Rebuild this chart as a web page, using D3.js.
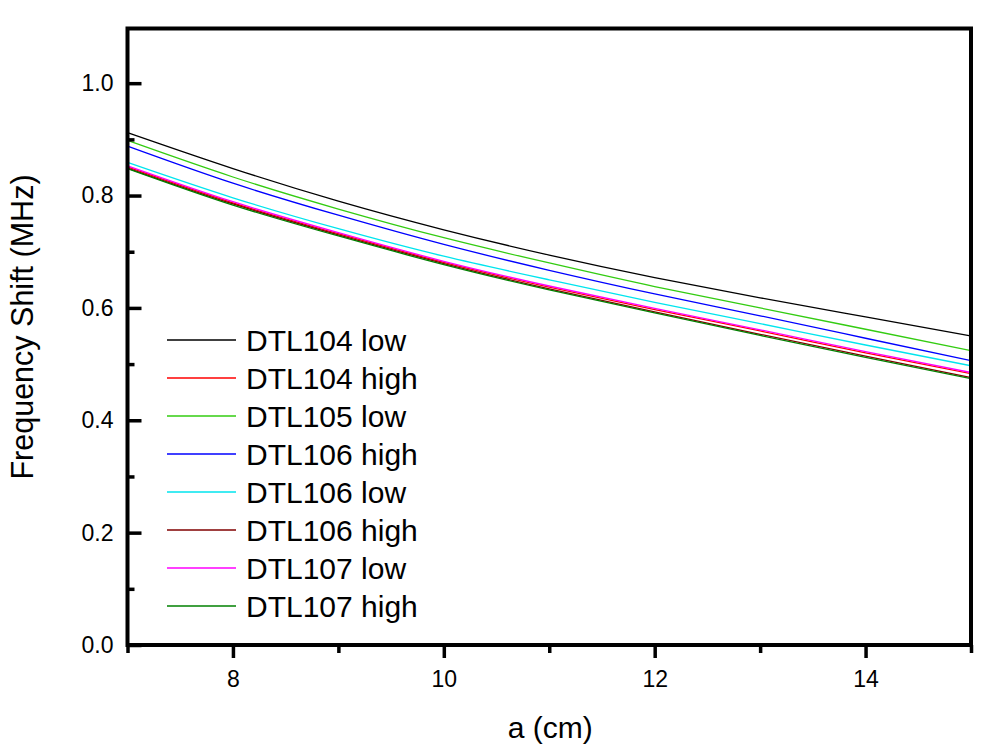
<!DOCTYPE html>
<html>
<head>
<meta charset="utf-8">
<script src="https://cdn.jsdelivr.net/npm/d3@7"></script>
<style>
  html, body { margin: 0; padding: 0; background: #fff; }
  svg { display: block; font-family: "Liberation Sans", Arial, sans-serif; }
</style>
</head>
<body>
<svg id="chart" width="998" height="754"></svg>
<script>
// ---- data ----
const aValues = [7, 8, 9, 10, 11, 12, 13, 14, 15];
const seriesNames = ["DTL104 low", "DTL104 high", "DTL105 low", "DTL106 high", "DTL106 low", "DTL106 high", "DTL107 low", "DTL107 high"];
const seriesColors = ["#000000", "#ff0000", "#33cc11", "#0000ff", "#00e5ee", "#800000", "#ff00ff", "#008000"];
const dtl104Low  = [0.912, 0.848, 0.790, 0.739, 0.694, 0.654, 0.618, 0.584, 0.550];
const dtl104High = [0.851, 0.787, 0.732, 0.681, 0.637, 0.597, 0.559, 0.520, 0.483];
const dtl105Low  = [0.898, 0.833, 0.776, 0.725, 0.680, 0.638, 0.600, 0.562, 0.524];
const dtl106HighA = [0.888, 0.822, 0.765, 0.713, 0.667, 0.625, 0.586, 0.546, 0.506];
const dtl106Low  = [0.859, 0.796, 0.741, 0.692, 0.650, 0.610, 0.572, 0.534, 0.497];
const dtl106HighB = [0.849, 0.785, 0.730, 0.679, 0.634, 0.593, 0.553, 0.514, 0.476];
const dtl107Low  = [0.853, 0.789, 0.734, 0.683, 0.639, 0.599, 0.561, 0.522, 0.485];
const dtl107High = [0.848, 0.783, 0.728, 0.677, 0.632, 0.591, 0.551, 0.512, 0.474];
const seriesValues = [dtl104Low, dtl104High, dtl105Low, dtl106HighA, dtl106Low, dtl106HighB, dtl107Low, dtl107High];
const xTickLabels = [8, 10, 12, 14];
const xMinorTicks = [7, 9, 11, 13, 15];
const yTickLabels = [0.0, 0.2, 0.4, 0.6, 0.8, 1.0];
const yMinorTicks = [0.1, 0.3, 0.5, 0.7, 0.9];
const xTitle = "a (cm)";
const yTitle = "Frequency Shift (MHz)";

// ---- layout ----
const svg = d3.select("#chart");
const pLeft = 127.5, pRight = 971, pTop = 27, pBottom = 645;
const x = d3.scaleLinear().domain([7, 15]).range([pLeft, pRight]);
const y = d3.scaleLinear().domain([0, 1.1]).range([pBottom, pTop]);

// plot area clip
svg.append("defs").append("clipPath").attr("id", "clip")
  .append("rect").attr("x", pLeft).attr("y", pTop).attr("width", pRight - pLeft).attr("height", pBottom - pTop);

// lines
const line = d3.line().curve(d3.curveNatural);
const linesG = svg.append("g").attr("clip-path", "url(#clip)");
seriesValues.forEach((vals, i) => {
  linesG.append("path")
    .attr("d", line(vals.map((v, j) => [x(aValues[j]), y(v)])))
    .attr("fill", "none")
    .attr("stroke", seriesColors[i])
    .attr("stroke-width", 1.3);
});

// x axis (ticks outward)
const xAxis = d3.axisBottom(x).tickValues(xTickLabels).tickSize(13).tickPadding(13)
  .tickFormat(d3.format("d"));
const gx = svg.append("g").attr("transform", `translate(0,${pBottom})`).call(xAxis);
gx.select(".domain").remove();
gx.selectAll(".tick line").attr("stroke", "#000").attr("stroke-width", 3.5);
gx.selectAll(".tick text").attr("font-size", 23).attr("fill", "#000")
  .attr("font-family", "Liberation Sans, Arial, sans-serif");
const gxm = svg.append("g").attr("transform", `translate(0,${pBottom})`)
  .call(d3.axisBottom(x).tickValues(xMinorTicks).tickSize(8).tickFormat(""));
gxm.select(".domain").remove();
gxm.selectAll(".tick line").attr("stroke", "#000").attr("stroke-width", 3.5);

// y axis (ticks inward)
const yAxis = d3.axisLeft(y).tickValues(yTickLabels).tickSize(-14).tickPadding(14)
  .tickFormat(d3.format(".1f"));
const gy = svg.append("g").attr("transform", `translate(${pLeft},0)`).call(yAxis);
gy.select(".domain").remove();
gy.selectAll(".tick line").attr("stroke", "#000").attr("stroke-width", 3.5);
gy.selectAll(".tick text").attr("font-size", 23).attr("fill", "#000")
  .attr("font-family", "Liberation Sans, Arial, sans-serif");
const gym = svg.append("g").attr("transform", `translate(${pLeft},0)`)
  .call(d3.axisLeft(y).tickValues(yMinorTicks).tickSize(-7).tickFormat(""));
gym.select(".domain").remove();
gym.selectAll(".tick line").attr("stroke", "#000").attr("stroke-width", 3.5);

// frame
svg.append("rect")
  .attr("x", pLeft).attr("y", pTop + 1.5)
  .attr("width", pRight - pLeft).attr("height", pBottom - pTop - 1.5)
  .attr("fill", "none").attr("stroke", "#000").attr("stroke-width", 4);

// axis titles
svg.append("text").attr("x", (pLeft + pRight) / 2 + 1).attr("y", 738)
  .attr("text-anchor", "middle").attr("font-size", 30).attr("fill", "#000").text(xTitle);
svg.append("text").attr("transform", `translate(33,${327}) rotate(-90)`)
  .attr("text-anchor", "middle").attr("font-size", 30.5).attr("fill", "#000").text(yTitle);

// legend
const legend = svg.append("g");
const legY0 = 340, legStep = 38.0;
seriesNames.forEach((name, i) => {
  const ly = legY0 + i * legStep;
  legend.append("line").attr("x1", 167).attr("x2", 236).attr("y1", ly).attr("y2", ly)
    .attr("stroke", seriesColors[i]).attr("stroke-width", 1.3);
  legend.append("text").attr("x", 246).attr("y", ly + 11)
    .attr("font-size", 30).attr("fill", "#000").text(name);
});
</script>
</body>
</html>
